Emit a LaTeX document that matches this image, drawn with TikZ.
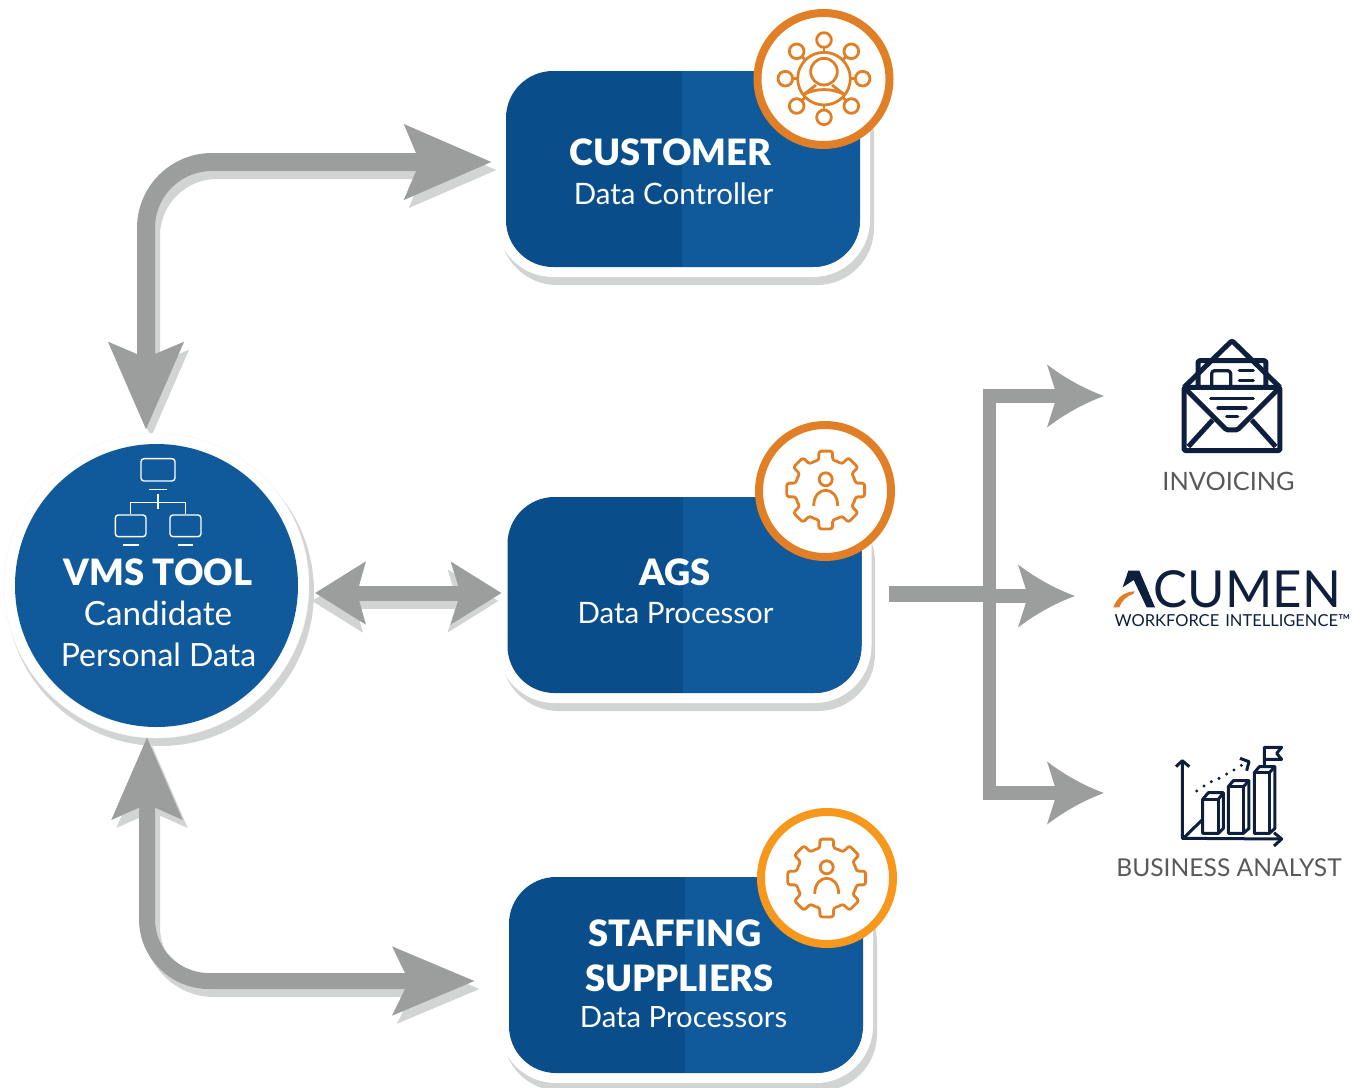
\documentclass[tikz,border=0pt]{standalone}
\usepackage{fontspec}
\setmainfont{Lato}
\newfontfamily\heavyfont{Lato Black}
\usetikzlibrary{arrows.meta,calc}
\definecolor{boxdark}{HTML}{094E8A}
\definecolor{boxlight}{HTML}{10599A}
\definecolor{arrowgrey}{HTML}{9C9E9D}
\definecolor{shadowgrey}{HTML}{D2D3D3}
\definecolor{badgeorange}{HTML}{E07F26}
\definecolor{badgeamber}{HTML}{F7981D}
\definecolor{navy}{HTML}{0D1F3C}
\definecolor{labelgrey}{HTML}{58595B}
\pgfdeclarearrow{
  name=CurveHead,
  setup code={\pgfarrowssettipend{0pt}\pgfarrowssetbackend{-57pt}\pgfarrowssetlineend{-46pt}\pgfarrowssetvisualbackend{-47pt}},
  drawing code={
    \pgfpathmoveto{\pgfqpoint{0pt}{0pt}}
    \pgfpathquadraticcurveto{\pgfqpoint{-30pt}{11pt}}{\pgfqpoint{-57pt}{31.5pt}}
    \pgfpathlineto{\pgfqpoint{-47pt}{0pt}}
    \pgfpathlineto{\pgfqpoint{-57pt}{-31.5pt}}
    \pgfpathquadraticcurveto{\pgfqpoint{-30pt}{-11pt}}{\pgfqpoint{0pt}{0pt}}
    \pgfpathclose\pgfusepathqfill
  }
}
\tikzset{
  x=1pt,y=-1pt,
  bluebox/.style={rectangle,rounded corners=47pt,minimum width=354pt,minimum height=196pt,inner sep=0pt,outer sep=0pt,fill=boxdark,
    path picture={\fill[boxlight,sharp corners] ([xshift=-1.5pt]path picture bounding box.south) rectangle (path picture bounding box.north east);}},
  badge/.style={circle,draw=#1,fill=white,line width=8pt,minimum size=132pt,inner sep=0pt,outer sep=0pt},
  boxback/.style={fill=shadowgrey,rounded corners=57pt},
  boxwhite/.style={fill=white,rounded corners=57pt},
  titletext/.style={anchor=base,text=white,inner sep=0pt,font=\heavyfont\fontsize{36.3}{36}\selectfont},
  subtext/.style={anchor=base,text=white,inner sep=0pt,font=\fontsize{29.5}{30}\selectfont},
  sidetext/.style={anchor=base,text=labelgrey,inner sep=0pt},
  curvedarrow/.style={draw=#1,line width=18pt},
  icon/.style={draw=badgeorange,line width=2.8pt,line join=round},
  navyicon/.style={draw=navy,line join=round},
  gearicon/.pic={
    \draw[icon,rounded corners=2.5pt] (-22.5:31)
      foreach \a in {0,45,...,270} { -- (\a-13:30.5) -- (\a-10:39.5) -- (\a+10:39.5) -- (\a+13:30.5) -- (\a+22.5:31) }
      -- (302:30.5) -- (305:39.5) -- (325:39.5) -- (328:30.5) -- cycle;
    \draw[icon] (0,-10.7) circle[radius=6.5];
    \draw[icon] (-12,16) .. controls (-12,-5) and (12,-5) .. (12,16);
  }
}
\newcommand{\topshape}[1]{%
  \draw[curvedarrow=#1,line width=18pt,rounded corners=66pt,{Stealth[length=86pt,width=72pt,inset=14pt]}-{Stealth[length=86pt,width=72pt,inset=14pt]}]
    ([shift={(-10.5,-14)}]vms.north) |- ([shift={(-14,-7)}]customer.west);}
\newcommand{\lowshape}[1]{%
  \draw[curvedarrow=#1,line width=16pt,rounded corners=62pt,{Stealth[length=81pt,width=68pt,inset=14pt]}-{Stealth[length=81pt,width=66pt,inset=15pt]}]
    ([shift={(-9.5,10)}]vms.south) |- ([shift={(-34,6)}]staffing.west);}
\newcommand{\midshape}[1]{%
  \draw[curvedarrow=#1,line width=15pt,{Stealth[length=50pt,width=61pt,inset=8pt]}-{Stealth[length=50pt,width=61pt,inset=9pt]}]
    ([shift={(17,7.5)}]vms.east) -- ([shift={(-6,-2)}]ags.west);}
\begin{document}
\begin{tikzpicture}
\clip (0,0) rectangle (1360,1087);
\path (156.5,585.5) node[circle,minimum size=283pt,inner sep=0pt,outer sep=0pt] (vms) {};
% boxes
\fill[boxback] (500,79) rectangle (874,285);
\fill[boxwhite] (496,61) rectangle (870,277);
\fill[boxback] (501.5,505) rectangle (875,711);
\fill[boxwhite] (497.5,487) rectangle (871.5,703);
\fill[boxback] (503,885) rectangle (877,1091);
\fill[boxwhite] (499,867) rectangle (873,1083);
\node[bluebox] (customer) at (683,169) {};
\node[bluebox] (ags) at (684.5,595) {};
\node[bluebox] (staffing) at (686,975) {};
% arrow shadows
\begin{scope}[transform canvas={xshift=5pt,yshift=-8pt}]
  \topshape{shadowgrey}
  \lowshape{shadowgrey}
\end{scope}
\begin{scope}[transform canvas={xshift=-3pt,yshift=-8pt}]
  \midshape{shadowgrey}
\end{scope}
% VMS circle
\fill[shadowgrey] (160,592) circle[radius=154];
\fill[white,draw=black!4,line width=.5pt] (156.5,585.5) circle[radius=152.5];
\node[circle,fill=boxlight,minimum size=283pt,inner sep=0pt,outer sep=0pt] (vms) at (156.5,585.5) {};
% arrows
\topshape{arrowgrey}
\lowshape{arrowgrey}
\midshape{arrowgrey}
% badges
\node[badge=badgeorange] (customerbadge) at (823.5,79) {};
\node[badge=badgeorange] (agsbadge) at (825,491) {};
\node[badge=badgeamber] (staffingbadge) at (827,878) {};
% customer icon
\begin{scope}[shift={(740,0)},x=0.3333pt,y=-0.3333pt]
  \draw[icon] (252,236) circle[radius=79];
  \draw[icon] (252,215) circle[radius=40];
  \draw[icon] (228,255) -- (192,283) .. controls (230,264) and (274,264) .. (312,283) -- (276,255);
  \foreach \a in {0,45,...,315}{
    \draw[icon] ([shift={(252,236)}]\a:79) -- ([shift={(252,236)}]\a:94);
    \draw[icon] ([shift={(252,236)}]\a:116) circle[radius=22];
  }
\end{scope}
% gear icons
\pic at (825.7,490) {gearicon};
\pic at (826.7,878) {gearicon};
% network icon
\begin{scope}[shift={(0,330)},x=0.3333pt,y=-0.3333pt,white,line width=1.4pt]
  \draw[rounded corners=3pt] (423,386) rectangle (525,453);
  \draw (447,479) -- (502,479);
  \draw (474,492) -- (474,538);
  \draw (392,553) -- (392,518) -- (556,518) -- (556,553);
  \draw[rounded corners=3pt] (346,555) rectangle (438,620);
  \draw[rounded corners=3pt] (510,555) rectangle (603,620);
  \draw (370,645) -- (416,645);
  \draw (535,645) -- (580,645);
\end{scope}
% texts in blue shapes
\node[titletext] (t1) at (158,585) {VMS TOOL};
\node[subtext,font=\fontsize{33.3}{33}\selectfont] (t2) at (158,625) {Candidate};
\node[subtext,font=\fontsize{32}{32}\selectfont] (t3) at (158.5,666) {Personal Data};
\node[titletext] (t4) at (670.5,165) {CUSTOMER};
\node[subtext] (t5) at (673.5,204) {Data Controller};
\node[titletext] (t6) at (675,585) {AGS};
\node[subtext] (t7) at (675.5,623) {Data Processor};
\node[titletext] (t8) at (675,946) {STAFFING};
\node[titletext] (t9) at (679.5,991) {SUPPLIERS};
\node[subtext,font=\fontsize{29.3}{30}\selectfont] (t10) at (683.5,1027) {Data Processors};
% right hand arrows
\coordinate (tipinv) at (1104,396);
\coordinate (tipacu) at (1075,596);
\coordinate (tipbiz) at (1104,793);
\coordinate (trunk) at (989.5,793);
\coordinate (junction) at (996,594);
\draw[arrowgrey,line width=13.5pt,CurveHead-CurveHead] (tipinv) -| (trunk) -- (tipbiz);
\draw[arrowgrey,line width=16pt] ([shift={(27,-1)}]ags.east) -- (junction);
\draw[arrowgrey,line width=13.5pt,-CurveHead] (junction |- tipacu) -- (tipacu);
% envelope
\begin{scope}[shift={(1100,330)},x=0.3333pt,y=-0.3333pt,navyicon,line width=5pt]
  \draw[rounded corners=1.5pt] (252,172) rectangle (540,362);
  \draw[rounded corners=1.5pt] (252,172) -- (396,32) -- (540,172);
  \draw (252,172) -- (540,172);
  \draw[rounded corners=1.5pt] (294,172) -- (294,92) -- (498,92) -- (498,172);
  \draw[rounded corners=1.5pt] (252,172) -- (380,300) -- (412,300) -- (540,172);
  \draw (265,350) -- (338,270);
  \draw (527,350) -- (455,270);
  \draw[line width=3.3pt,rounded corners=3pt] (335,172) -- (335,122) -- (392,122) -- (392,172);
  \draw[line width=3.3pt,line cap=round] (418,122) -- (460,122);
  \draw[line width=3.3pt,line cap=round] (418,152) -- (460,152);
  \draw[line width=3.3pt,line cap=round] (332,206) -- (460,206);
  \draw[line width=3.3pt,line cap=round] (354,234) -- (438,234);
  \draw[line width=3.3pt,line cap=round] (380,260) -- (413,260);
\end{scope}
\node[sidetext,font=\fontsize{25.3}{26}\selectfont] (invoicing) at (1228.5,490) {INVOICING};
% acumen logo
\node[anchor=base,inner sep=0pt,text=navy,font=\fontsize{51}{51}\selectfont] (acumen) at (1230.5,607) {ACUMEN};
\begin{scope}[shift={(1100,330)},x=0.3333pt,y=-0.3333pt]
  \fill[white] (15,845) -- (176,845) -- (134,705) -- (15,700) -- cycle;
  \fill[navy] (85,722) -- (118,722) -- (165,832) -- (140,832) -- (101,750) -- (68,772) -- cycle;
  \fill[badgeorange] (40,832) .. controls (52,800) and (75,785) .. (104,784) -- (100,792) .. controls (80,798) and (65,812) .. (58,832) -- cycle;
\end{scope}
\node[anchor=base,inner sep=0pt,text=navy,font=\fontsize{16.5}{16.5}\selectfont] (workforce) at (1232.5,626) {WORKFORCE\hspace{6pt}INTELLIGENCE™};
% chart icon
\begin{scope}[shift={(1100,730)},x=0.3333pt,y=-0.3333pt,navyicon,line width=3pt]
  \draw (228,110) -- (247,92) -- (268,110);
  \draw (247,92) -- (247,325) -- (545,327);
  \draw (522,308) -- (545,327) -- (522,348);
  \draw (250,325) -- (308,268);
  \draw (308,310) -- (308,208) -- (325,188) -- (370,188) -- (370,295) -- (355,310) -- cycle;
  \draw (308,208) -- (355,208) -- (355,310); \draw (355,208) -- (370,188);
  \draw (385,310) -- (385,170) -- (400,152) -- (447,152) -- (447,295) -- (430,310) -- cycle;
  \draw (385,170) -- (430,170) -- (430,310); \draw (430,170) -- (447,152);
  \draw (463,310) -- (463,128) -- (478,110) -- (525,110) -- (525,295) -- (508,310) -- cycle;
  \draw (463,128) -- (508,128) -- (508,310); \draw (508,128) -- (525,110);
  \draw (493,110) -- (493,52) -- (545,52) -- (530,70) -- (545,88) -- (493,88);
  \foreach \px/\py in {290/183,312/168,334/155,357/145,380/132,402/120,424/106}
    \fill[navy] (\px,\py) circle[radius=5];
  \draw (420,85) -- (447,95) -- (440,122);
\end{scope}
\node[sidetext,font=\fontsize{24.6}{25}\selectfont] (analyst) at (1229,876) {BUSINESS ANALYST};
\end{tikzpicture}
\end{document}
